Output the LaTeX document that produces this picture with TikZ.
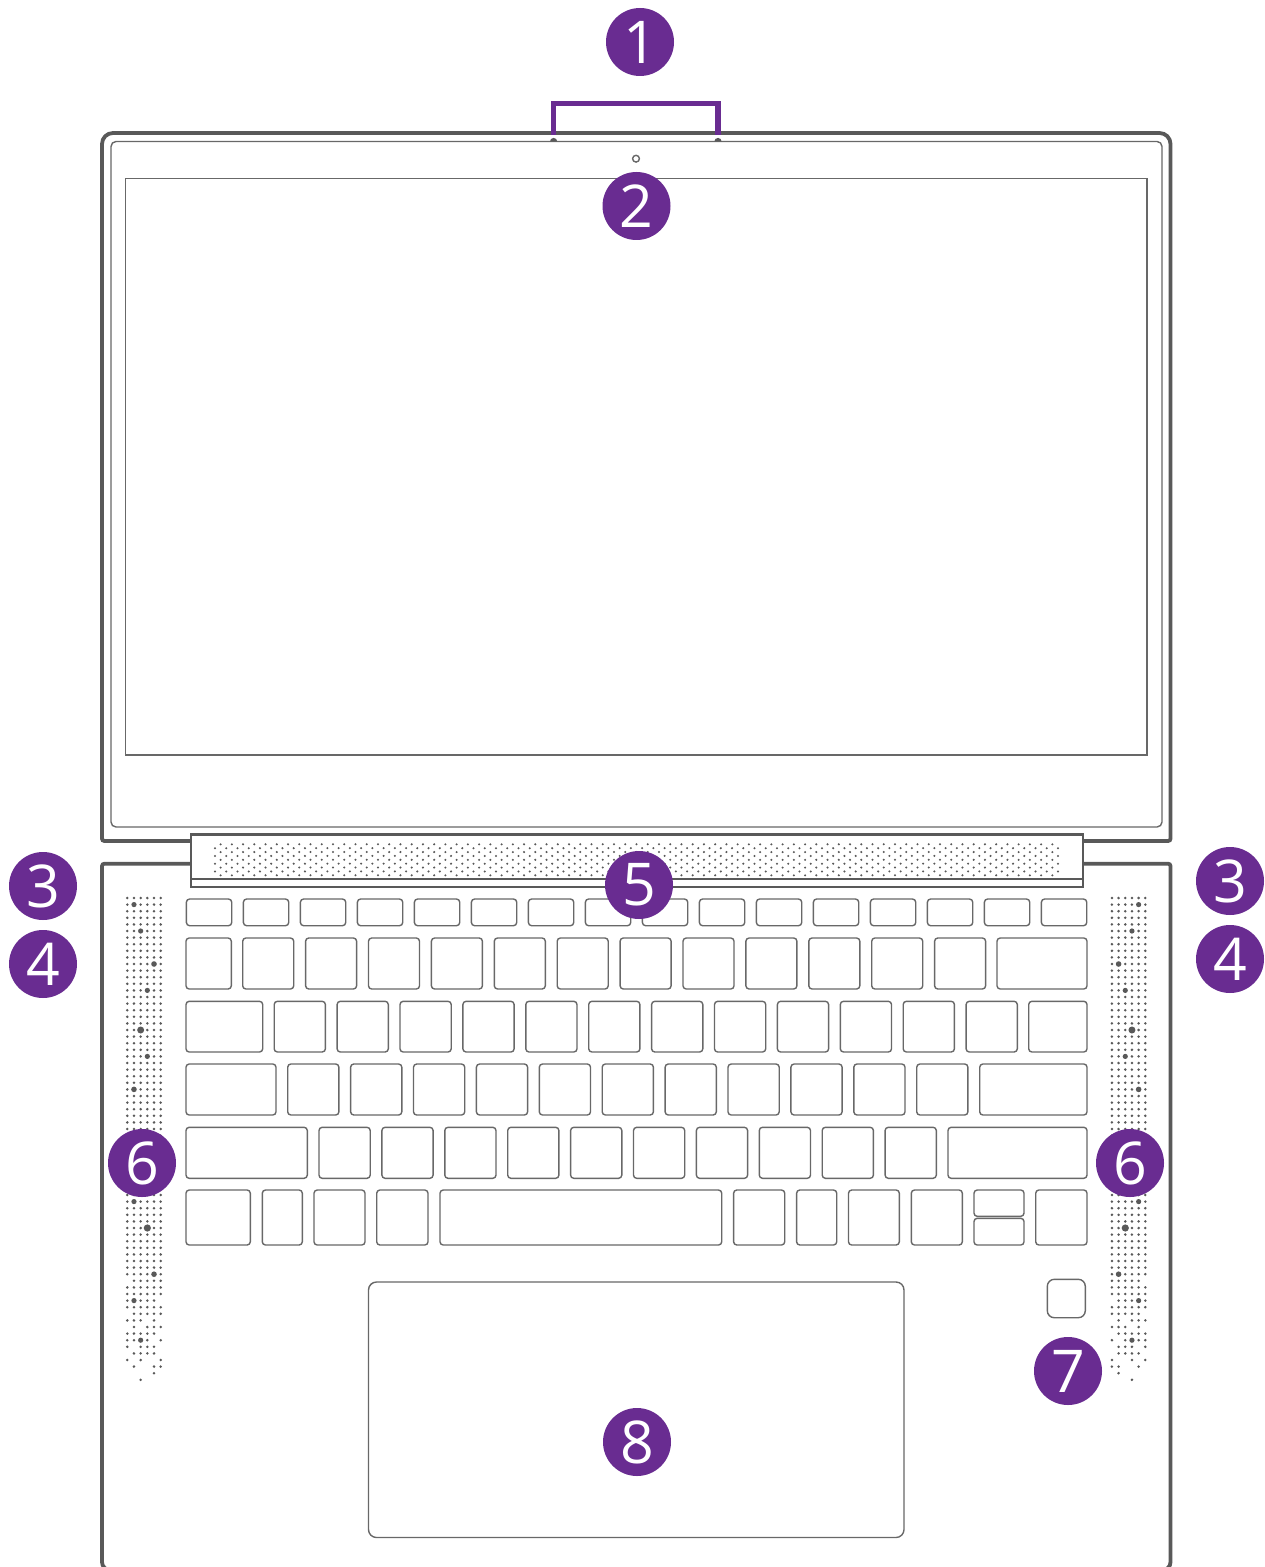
\documentclass[tikz,border=0pt]{standalone}
\usepackage{fontspec}
\setmainfont{Open Sans}
\definecolor{calloutpurple}{HTML}{692C91}
\definecolor{bodygray}{HTML}{595959}
\definecolor{thingray}{HTML}{686868}
\tikzset{
  callout/.style={circle,fill=calloutpurple,text=white,minimum size=34pt,inner sep=0pt,font=\fontsize{29.5}{30}\selectfont},
  shell/.style={draw=bodygray,line width=1.9pt},
  trim/.style={draw=bodygray,line width=1.2pt},
  thinline/.style={draw=thingray,line width=.7pt},
  keycap/.style={thinline,rounded corners=1.6pt},
  bracket/.style={draw=calloutpurple,line width=2.6pt}
}
\newcommand{\speakerdot}[3]{%
  \fill[bodygray] (127.3+6.68*#1,898+6.6*#2) circle (#3);
  \fill[bodygray] (1145.3-6.68*#1,898+6.6*#2) circle (#3);
}
\begin{document}
\begin{tikzpicture}[x=.5pt,y=-.5pt]
	\path[use as bounding box,clip] (0,0) rectangle (1264,1567);
	\fill[white] (0,0) rectangle (1264,1567);
	\draw[shell] (190.7,841) [rounded corners=1.2pt] -- (102,841) [rounded corners=5.5pt] -- (102,133) -- (1170.5,133) [rounded corners=1.2pt] -- (1170.5,841) -- (1082.7,841);
	\draw[shell] (190.7,863.7) [rounded corners=1.2pt] -- (102,863.7) [rounded corners=4pt] -- (102,1570) -- (1170.5,1570) [rounded corners=1.2pt] -- (1170.5,863.7) -- (1082.7,863.7);
	\draw[thinline,rounded corners=2.5pt] (111,141.5) rectangle (1162,827);
	\draw[thinline] (125.7,178.5) rectangle (1147,755);
	\draw[thinline] (636,158.7) circle (3.4);
	\fill[bodygray] (550,141.5) arc[start angle=180,end angle=0,radius=1.8pt] -- cycle;
	\fill[bodygray] (714.4,141.5) arc[start angle=180,end angle=0,radius=1.8pt] -- cycle;
	\draw[bracket] (553.3,135) -- (553.3,103.7) -- (718,103.7) -- (718,135);
	\draw[trim] (190.7,834.5) rectangle (1082.7,886.7);
	\draw[trim] (190.7,879) -- (1082.7,879);
	\foreach \r in {0,2,4,6,8}
		\foreach \c in {0,...,74}
			\fill[bodygray] (220.6+11.24*\c,844.3+3.875*\r) circle (1.15);
	\foreach \r in {1,3,5,7}
		\foreach \c in {0,...,75}
			\fill[bodygray] (215+11.24*\c,844.3+3.875*\r) circle (1.15);
	\foreach \r in {0,...,57,59,60,62}
		\foreach \c in {0,...,5}
			{\speakerdot{\c}{\r}{1.4}}
	\foreach \r/\cols in {58/{1,2,3,4,5},61/{0,1,2,3,4},63/{1,2,3,4,5},64/{0,1,2,4},65/{1,3,4,5},66/{0,1,2,3,4},67/{0,1,2,3,5},68/{0,2,3,4},69/{1,2,3,4},70/{0,2,5},71/{1,4,5},72/{4},73/{2}}
		\foreach \c in \cols
			{\speakerdot{\c}{\r}{1.4}}
	\foreach \c/\r/\s in {1/1/2.6,2/5/2.6,4/10/2.8,3/14/2.6,2/20/3.5,3/24/2.6,1/29/2.8,1/46/2.6,3/50/3.6,4/57/2.8,1/61/2.6,2/67/2.6}
		{\speakerdot{\c}{\r}{\s}}
	\foreach \i in {0,...,15}
		\draw[keycap] (186.4+57*\i,899) rectangle ++(45.3,26.7);
	\draw[keycap] (186,938) rectangle (231.3,989);
	\foreach \i in {0,...,11}
		\draw[keycap] (242.7+62.9*\i,938) rectangle ++(51,51);
	\draw[keycap] (997,938) rectangle (1087,989);
	\draw[keycap] (186,1001.3) rectangle (262.7,1052);
	\foreach \i in {0,...,11}
		\draw[keycap] (274.2+62.9*\i,1001.3) rectangle ++(51.2,50.7);
	\draw[keycap] (1028.7,1001.3) rectangle (1087,1052);
	\draw[keycap] (186,1064) rectangle (276,1115);
	\foreach \i in {0,...,10}
		\draw[keycap] (287.7+62.9*\i,1064) rectangle ++(51.2,51);
	\draw[keycap] (979.7,1064) rectangle (1087,1115);
	\draw[keycap] (186,1127.3) rectangle (307.3,1178.3);
	\foreach \i in {0,...,9}
		\draw[keycap] (319+62.9*\i,1127.3) rectangle ++(51.2,51);
	\draw[keycap] (948,1127.3) rectangle (1087,1178.3);
	\foreach \a/\b in {186/250.3,262.3/302.3,314/365,376.7/428,440/721.7,733.6/784.7,796.6/836.7,848.5/899.3,911.3/962.3,1035.7/1087}
		\draw[keycap] (\a,1190) rectangle (\b,1245);
	\draw[keycap] (974,1190) rectangle (1024,1216.3);
	\draw[keycap] (974,1218.3) rectangle (1024,1245);
	\draw[thinline,rounded corners=4pt] (368.5,1282) rectangle (904,1537.5);
	\draw[thinline,rounded corners=3.5pt] (1047.3,1279.3) rectangle (1085.3,1317.7);
	\node[callout] (mics) at (640,42) {1};
	\node[callout] (camera) at (636.5,206) {2};
	\node[callout] (portleft) at (43,886) {3};
	\node[callout] (portright) at (1230,881) {3};
	\node[callout] (jackleft) at (43,964) {4};
	\node[callout] (jackright) at (1230,959) {4};
	\node[callout] (hinge) at (639,885) {5};
	\node[callout] (speakerleft) at (142,1163) {6};
	\node[callout] (speakerright) at (1130,1163) {6};
	\node[callout] (finger) at (1068,1371) {7};
	\node[callout] (touchpad) at (637,1442) {8};
\end{tikzpicture}
\end{document}
